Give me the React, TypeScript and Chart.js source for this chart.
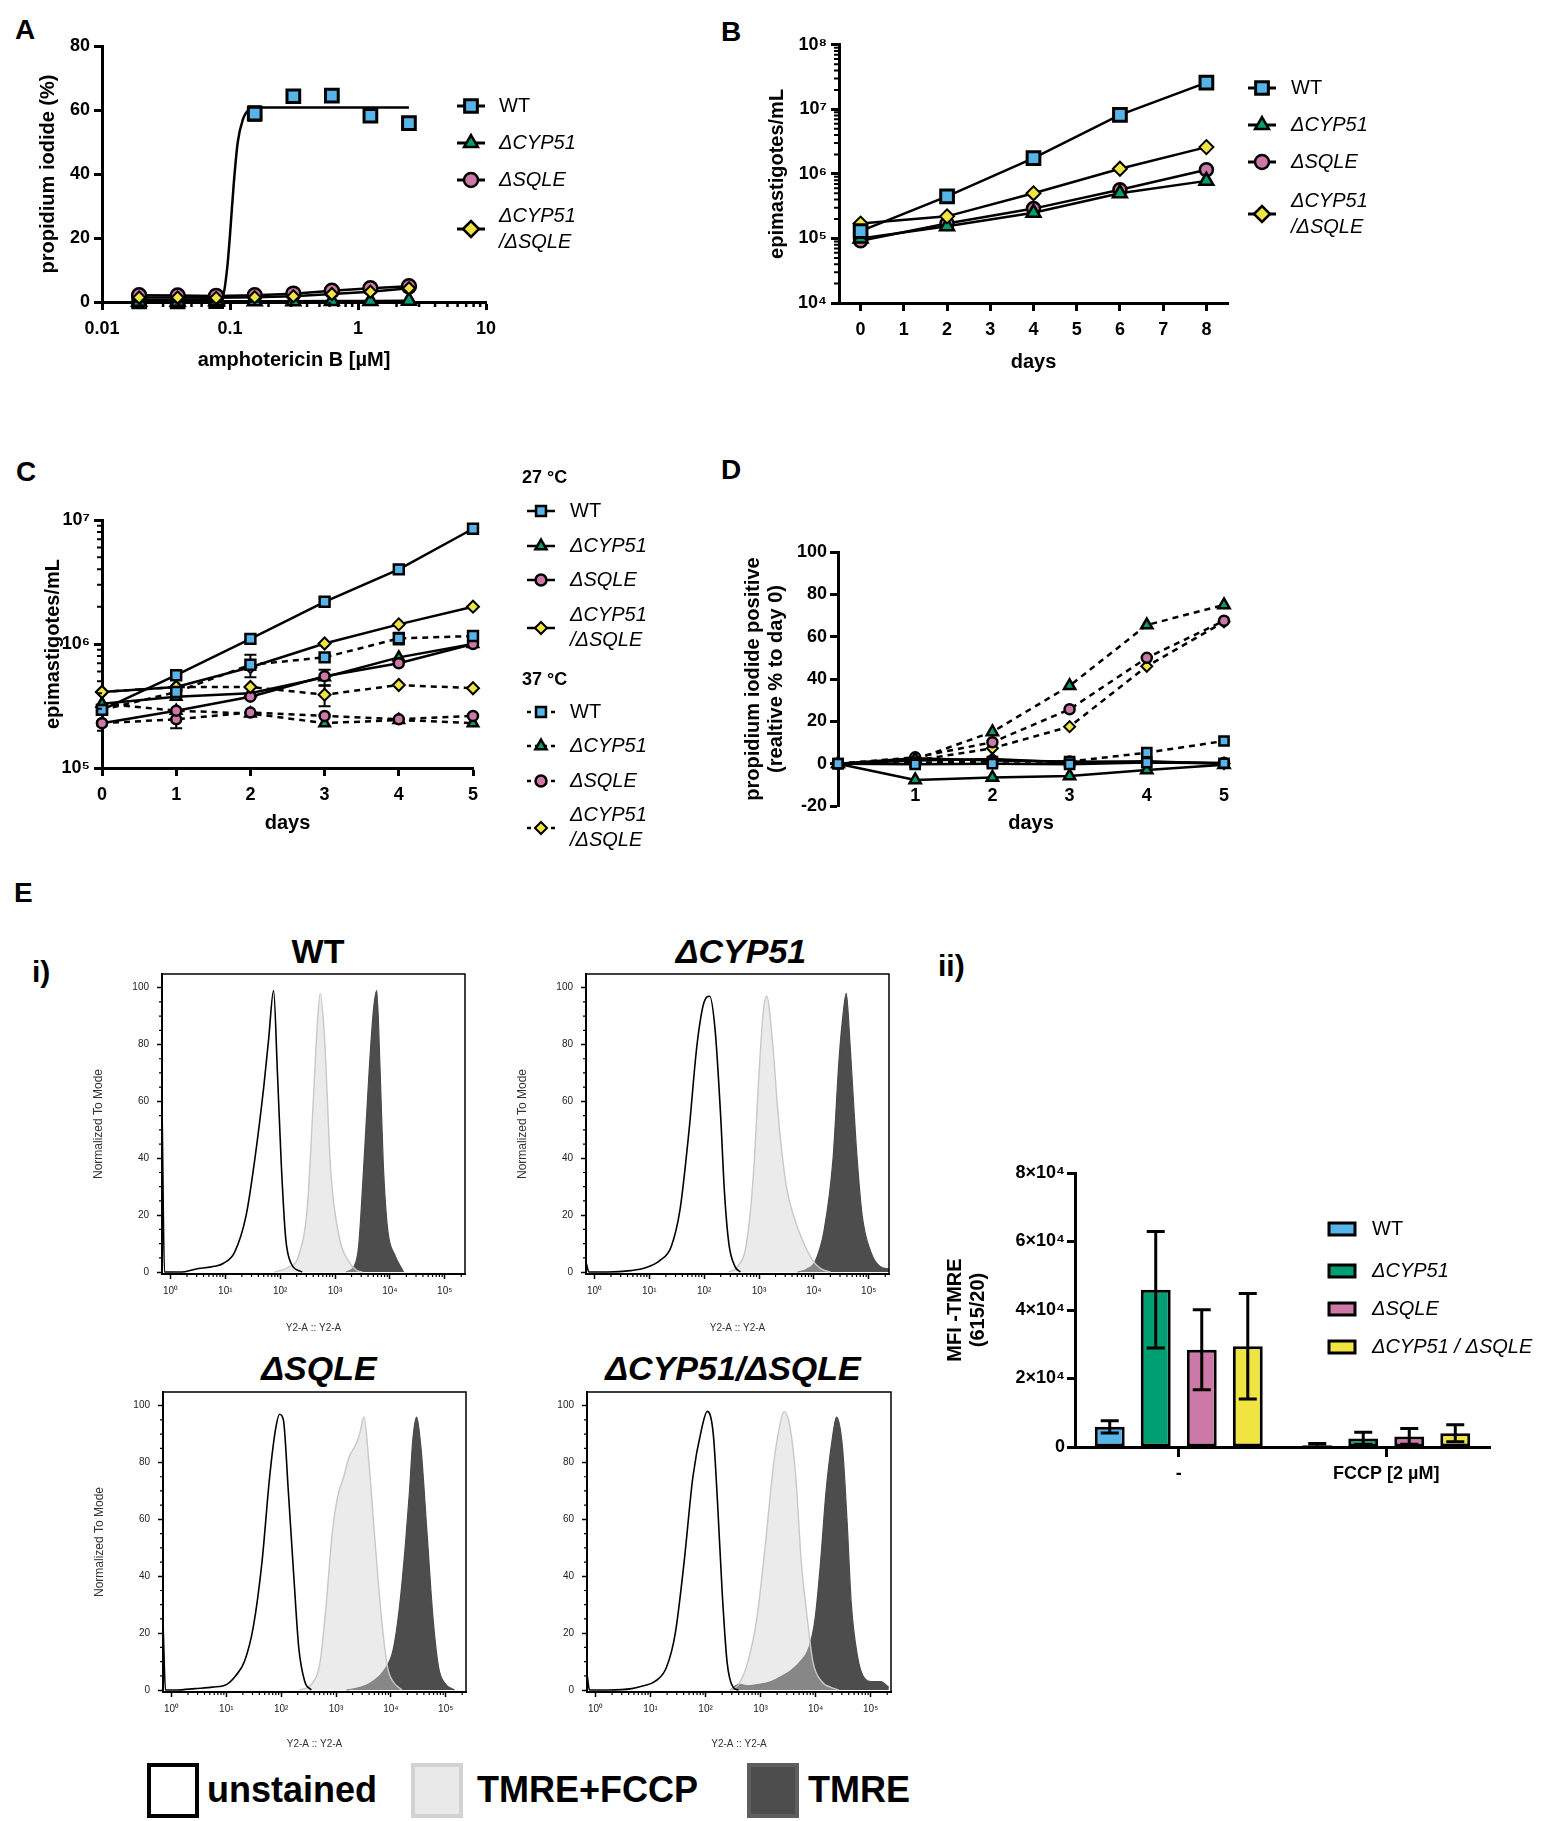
import { useEffect, useRef } from 'react'
import { Chart, registerables } from 'chart.js'
import { drawPoint } from 'chart.js/helpers'

Chart.register(...registerables)

const FONT = "'Liberation Sans', Arial, Helvetica, sans-serif"

const BLUE = '#56B4E9'
const GREEN = '#009E73'
const PINK = '#CC79A7'
const YELLOW = '#F0E442'

// ---- A: propidium iodide vs amphotericin B
const ampB = [0.0195, 0.039, 0.078, 0.156, 0.3125, 0.625, 1.25, 2.5]
const piWT = [0.2, 0.2, 0.3, 58.9, 64.3, 64.5, 58.2, 55.9]
const piWTErr = [0, 0, 0, 2.2, 0, 0, 0, 0]
const piCYP51 = [0.1, 0.1, 0.2, 0.2, 0.2, 0.3, 0.3, 0.4]
const piSQLE = [2.1, 2.0, 1.9, 2.1, 2.6, 3.5, 4.3, 4.9]
const piDouble = [1.4, 1.4, 1.3, 1.5, 1.8, 2.5, 3.2, 4.3]
const fitConc = [0.0195, 0.08, 0.0875, 0.0953, 0.1, 0.107, 0.115, 0.126, 0.14, 0.17, 2.5]
const fitWT = [0.6, 0.8, 1.5, 11, 21, 37, 50, 57, 60, 60.8, 60.8]
const ampTicks = [0.01, 0.1, 1, 10]
const ampTickLabels = ['0.01', '0.1', '1', '10']
const piTicks = [0, 20, 40, 60, 80]

// ---- B: growth at 27 °C
const daysB = [0, 2, 4, 6, 8]
const growWT = [1.3e5, 4.5e5, 1.76e6, 8.2e6, 2.6e7]
const growCYP51 = [1.0e5, 1.55e5, 2.5e5, 5.0e5, 7.8e5]
const growSQLE = [0.92e5, 1.7e5, 2.9e5, 5.7e5, 1.16e6]
const growDouble = [1.7e5, 2.2e5, 5.0e5, 1.2e6, 2.6e6]
const dayTicksB = [0, 1, 2, 3, 4, 5, 6, 7, 8]
const growTicks = [1e4, 1e5, 1e6, 1e7, 1e8]
const growTickLabels = ['10⁴', '10⁵', '10⁶', '10⁷', '10⁸']

// ---- C: growth at 27 °C and 37 °C
const daysC = [0, 1, 2, 3, 4, 5]
const c27WT = [2.94e5, 5.6e5, 1.1e6, 2.19e6, 4.0e6, 8.5e6]
const c27CYP51 = [3.3e5, 3.76e5, 4.0e5, 5.4e5, 7.8e5, 1.0e6]
const c27SQLE = [2.3e5, 2.9e5, 3.76e5, 5.5e5, 7.0e5, 1.0e6]
const c27Double = [4.1e5, 4.5e5, 6.5e5, 1.01e6, 1.44e6, 2.0e6]
const c37WT = [2.94e5, 4.1e5, 6.8e5, 7.8e5, 1.11e6, 1.16e6]
const c37CYP51 = [3.3e5, 2.9e5, 2.75e5, 2.3e5, 2.44e5, 2.3e5]
const c37SQLE = [2.3e5, 2.47e5, 2.8e5, 2.63e5, 2.47e5, 2.63e5]
const c37Double = [4.1e5, 4.5e5, 4.5e5, 3.9e5, 4.67e5, 4.4e5]
const c27CYP51Err = [0, 0, 0, 0.8e5, 0, 0]
const c37WTErr = [0, 0, 1.4e5, 0, 1.2e5, 0]
const c37SQLEErr = [0, 0.38e5, 0, 0, 0, 0]
const c37DoubleErr = [0, 0, 0, 0.75e5, 0, 0]
const dayTicksC = [0, 1, 2, 3, 4, 5]
const growTicksC = [1e5, 1e6, 1e7]
const growTickLabelsC = ['10⁵', '10⁶', '10⁷']

// ---- D: PI positive relative to day 0
const daysD = [0, 1, 2, 3, 4, 5]
const d27WT = [0, -0.3, 0, -0.3, 0.5, 0.2]
const d27CYP51 = [0, -7.7, -6.5, -5.8, -3, -0.5]
const d27SQLE = [0, 2.5, 1.5, 1.0, 0.8, 0.3]
const d27Double = [0, 1.5, 2.2, 0.5, 1.2, 0]
const d37WT = [0, 0.5, 1.0, 1.0, 5.2, 10.7]
const d37CYP51 = [0, 2.0, 15, 36.8, 65.5, 75]
const d37SQLE = [0, 3.0, 10.1, 25.7, 50, 67.5]
const d37Double = [0, 1.5, 7.3, 17.5, 46, 67]
const dayTicksD = [1, 2, 3, 4, 5]
const relTicks = [-20, 0, 20, 40, 60, 80, 100]

// ---- E ii: MFI TMRE
const mfiGroups = ['-', 'FCCP [2 µM]']
const mfiWT = [5900, 500]
const mfiCYP51 = [45900, 2500]
const mfiSQLE = [28400, 3100]
const mfiDouble = [29400, 4000]
const mfiWTSd = [1800, 500]
const mfiCYP51Sd = [17000, 1800]
const mfiSQLESd = [11700, 2300]
const mfiDoubleSd = [15400, 2500]
const mfiTicks = [0, 20000, 40000, 60000, 80000]
const mfiTickLabels = ['0', '2×10⁴', '4×10⁴', '6×10⁴', '8×10⁴']

// ---- E i: histograms, [log10 Y2-A, % of mode]
const wtUnstained = [[-0.15, 52], [-0.11, 0], [0.2, 0], [0.45, 1], [0.8, 2], [0.96, 3], [1.17, 7], [1.38, 20], [1.54, 40], [1.7, 65], [1.79, 82], [1.88, 99], [1.95, 70], [2.02, 38], [2.1, 12], [2.2, 3], [2.4, 0]]
const wtFccp = [[1.9, 0], [2.13, 1.5], [2.34, 6], [2.5, 24], [2.6, 59], [2.68, 88], [2.73, 98], [2.81, 82], [2.92, 36], [3.08, 12], [3.24, 4], [3.4, 0.5], [3.5, 0]]
const wtTmre = [[3.2, 0], [3.35, 2], [3.43, 9], [3.52, 36], [3.62, 70], [3.7, 92], [3.76, 99], [3.82, 72], [3.88, 38], [3.96, 15], [4.09, 6], [4.25, 0]]
const cypUnstained = [[-0.15, 3], [-0.1, 0], [0.24, 0], [0.66, 0.5], [0.93, 1.5], [1.19, 4], [1.4, 9], [1.56, 22], [1.72, 49], [1.87, 80], [2.0, 95], [2.1, 97], [2.2, 85], [2.3, 55], [2.37, 28], [2.45, 10], [2.56, 2], [2.66, 0]]
const cypFccp = [[2.45, 0], [2.61, 2], [2.77, 10], [2.9, 35], [3.0, 70], [3.08, 92], [3.14, 97], [3.25, 80], [3.35, 55], [3.5, 30], [3.66, 18], [3.82, 10], [3.98, 4], [4.14, 1], [4.3, 0]]
const cypTmre = [[3.7, 0], [3.87, 1], [4.03, 4], [4.19, 15], [4.35, 40], [4.46, 75], [4.54, 92], [4.59, 98], [4.66, 80], [4.77, 45], [4.88, 20], [5.04, 7], [5.2, 2], [5.37, 1]]
const sqleUnstained = [[-0.15, 21], [-0.11, 0], [0.1, 0], [0.43, 0.5], [0.75, 1], [1.01, 2], [1.17, 5], [1.33, 10], [1.49, 22], [1.65, 45], [1.79, 75], [1.9, 92], [1.97, 97], [2.04, 95], [2.13, 70], [2.23, 40], [2.32, 15], [2.43, 3], [2.55, 0]]
const sqleFccp = [[2.34, 0], [2.55, 2], [2.71, 10], [2.82, 30], [2.93, 55], [3.03, 68], [3.14, 75], [3.24, 82], [3.35, 86], [3.43, 90], [3.51, 96], [3.6, 80], [3.7, 55], [3.83, 25], [3.94, 8], [4.04, 3], [4.2, 0]]
const sqleTmre = [[3.19, 0], [3.46, 1], [3.67, 3], [3.88, 7], [4.04, 14], [4.15, 28], [4.26, 50], [4.34, 70], [4.4, 88], [4.47, 96], [4.55, 85], [4.66, 55], [4.77, 25], [4.87, 8], [5.0, 2], [5.16, 0]]
const dblUnstained = [[-0.15, 5], [-0.11, 0], [0.24, 0], [0.66, 0.5], [0.87, 1.5], [1.08, 3], [1.29, 8], [1.45, 20], [1.61, 45], [1.77, 75], [1.93, 92], [2.03, 98], [2.14, 90], [2.22, 65], [2.3, 35], [2.39, 10], [2.5, 1], [2.6, 0]]
const dblFccp = [[2.45, 0], [2.6, 2], [2.77, 10], [2.93, 25], [3.08, 50], [3.24, 80], [3.37, 95], [3.43, 98], [3.53, 93], [3.64, 75], [3.74, 45], [3.85, 25], [3.95, 10], [4.11, 3], [4.27, 1], [4.42, 0]]
const dblTmre = [[2.45, 0], [2.61, 2], [2.77, 1.5], [2.98, 2], [3.19, 3], [3.4, 5], [3.56, 7], [3.72, 10], [3.88, 15], [3.99, 25], [4.09, 45], [4.19, 70], [4.3, 88], [4.38, 96], [4.49, 85], [4.57, 60], [4.65, 30], [4.76, 12], [4.86, 5], [5.02, 3], [5.18, 3], [5.33, 1]]
const histXTicks = [1, 10, 100, 1000, 10000, 100000]
const histXLabels = ['10⁰', '10¹', '10²', '10³', '10⁴', '10⁵']
const histYTicks = [0, 20, 40, 60, 80, 100]

// ---------- plugins ----------
const sideLegend = {
  id: 'sideLegend',
  afterDraw(chart: any, _a: any, opts: any) {
    if (!opts || !opts.items) return
    const [ox, oy] = opts.origin
    const ctx = chart.ctx
    ctx.save()
    ctx.textBaseline = 'middle'
    ctx.textAlign = 'left'
    for (const it of opts.items) {
      const y = it.y - oy
      if (it.header) {
        ctx.fillStyle = '#000'
        ctx.font = `bold 18px ${FONT}`
        ctx.fillText(it.header, it.tx - ox, y)
        continue
      }
      const mx = it.x - ox
      ctx.strokeStyle = '#000'
      if (it.swatch) {
        ctx.fillStyle = it.color
        ctx.lineWidth = 3
        ctx.fillRect(mx - 13, y - 6, 26, 12)
        ctx.strokeRect(mx - 13, y - 6, 26, 12)
      } else {
        ctx.lineWidth = opts.lineWidth || 2.5
        ctx.setLineDash(it.dashed ? [4, 4] : [])
        ctx.beginPath()
        ctx.moveTo(mx - 14, y)
        ctx.lineTo(mx + 14, y)
        ctx.stroke()
        ctx.setLineDash([])
        ctx.fillStyle = it.color
        ctx.lineWidth = it.bw || 2.5
        drawPoint(ctx, { pointStyle: it.style, radius: it.r, rotation: 0, borderWidth: it.bw || 2.5 }, mx, y)
      }
      ctx.fillStyle = '#000'
      ctx.font = `${it.italic ? 'italic ' : ''}${opts.size || 20}px ${FONT}`
      const gap = opts.gap || 26
      it.lines.forEach((t: string, i: number) => {
        ctx.fillText(t, it.tx - ox, y + (i - (it.lines.length - 1) / 2) * gap)
      })
    }
    ctx.restore()
  },
}

function drawErrors(chart: any, opts: any) {
  const ctx = chart.ctx
  const ys = chart.scales.y
  ctx.save()
  ctx.strokeStyle = '#000'
  ctx.lineWidth = opts.width
  chart.data.datasets.forEach((ds: any, i: number) => {
    if (!ds.errors) return
    const meta = chart.getDatasetMeta(i)
    meta.data.forEach((el: any, j: number) => {
      const e = ds.errors[j]
      if (!e) return
      const raw = ds.data[j]
      const v = typeof raw === 'number' ? raw : raw.y
      const y1 = ys.getPixelForValue(v + e)
      const y2 = ys.getPixelForValue(Math.max(v - e, ys.min))
      const c = opts.cap
      ctx.beginPath()
      ctx.moveTo(el.x, y1)
      ctx.lineTo(el.x, y2)
      ctx.moveTo(el.x - c, y1)
      ctx.lineTo(el.x + c, y1)
      ctx.moveTo(el.x - c, y2)
      ctx.lineTo(el.x + c, y2)
      ctx.stroke()
    })
  })
  ctx.restore()
}

const errorBars = {
  id: 'errorBars',
  beforeDatasetsDraw(chart: any, _a: any, opts: any) {
    if (opts && opts.width && opts.under) drawErrors(chart, opts)
  },
  afterDatasetsDraw(chart: any, _a: any, opts: any) {
    if (opts && opts.width && !opts.under) drawErrors(chart, opts)
  },
}

const minorTicks = {
  id: 'minorTicks',
  afterDraw(chart: any, _a: any, opts: any) {
    if (!opts) return
    const { ctx, chartArea } = chart
    const len = opts.len || 5
    ctx.save()
    ctx.strokeStyle = '#000'
    ctx.lineWidth = opts.width || 2
    ctx.beginPath()
    ;(opts.x || []).forEach((v: number) => {
      const px = chart.scales.x.getPixelForValue(v)
      if (px < chartArea.left - 0.5 || px > chartArea.right + 0.5) return
      ctx.moveTo(px, chartArea.bottom)
      ctx.lineTo(px, chartArea.bottom + len)
    })
    ;(opts.y || []).forEach((v: number) => {
      const py = chart.scales.y.getPixelForValue(v)
      if (py < chartArea.top - 0.5 || py > chartArea.bottom + 0.5) return
      ctx.moveTo(chartArea.left - len, py)
      ctx.lineTo(chartArea.left, py)
    })
    ctx.stroke()
    ctx.restore()
  },
}

const frame = {
  id: 'frame',
  afterDraw(chart: any, _a: any, opts: any) {
    if (!opts || !opts.width) return
    const { ctx, chartArea } = chart
    ctx.save()
    ctx.strokeStyle = '#000'
    ctx.lineWidth = opts.width
    ctx.strokeRect(chartArea.left, chartArea.top, chartArea.right - chartArea.left, chartArea.bottom - chartArea.top)
    ctx.restore()
  },
}

// ---------- helpers ----------
const pts = (xs: number[], ys: number[]) => xs.map((x, i) => ({ x, y: ys[i] }))
const setTicks = (vals: number[]) => (s: any) => {
  s.ticks = vals.map((value) => ({ value }))
}
const logMinors = (fromExp: number, toExp: number) => {
  const out: number[] = []
  for (let e = fromExp; e < toExp; e++) for (let k = 2; k <= 9; k++) out.push(k * 10 ** e)
  return out
}
const tickFont = { family: FONT, size: 18, weight: 'bold' }
const titleFont = { family: FONT, size: 20, weight: 'bold', lineHeight: 1.15 }

function axis(extra: any, tickLen = 8) {
  return {
    grid: { drawOnChartArea: false, drawTicks: true, tickLength: tickLen, tickWidth: 3, tickColor: '#000' },
    border: { display: true, width: 3, color: '#000' },
    ...extra,
    ticks: { color: '#000', font: tickFont, autoSkip: false, maxRotation: 0, ...(extra.ticks || {}) },
  }
}

function series(label: string, xs: number[], ys: number[], color: string, style: string, r: number, extra: any = {}) {
  return {
    label,
    data: pts(xs, ys),
    borderColor: '#000',
    borderWidth: 2.5,
    pointStyle: style,
    pointRadius: r,
    pointBorderWidth: 2.5,
    pointBorderColor: '#000',
    pointBackgroundColor: color,
    fill: false,
    tension: 0,
    clip: false,
    ...extra,
  }
}

const baseOptions = (padding: any) => ({
  animation: false,
  responsive: false,
  layout: { padding },
  events: [],
})

// ---------- chart factories ----------
const boxA = { x: 0, y: 30, w: 700, h: 350 }
function makeA() {
  return {
    type: 'line',
    data: {
      datasets: [
        series('ΔCYP51/ΔSQLE', ampB, piDouble, YELLOW, 'rectRot', 6, { order: 0, pointBorderWidth: 2 }),
        series('ΔSQLE', ampB, piSQLE, PINK, 'circle', 7, { order: 1 }),
        series('ΔCYP51', ampB, piCYP51, GREEN, 'triangle', 8, { order: 2 }),
        series('WT', ampB, piWT, BLUE, 'rect', 9, { order: 3, showLine: false, errors: piWTErr, pointBorderWidth: 3 }),
        { label: 'WT fit', data: pts(fitConc, fitWT), borderColor: '#000', borderWidth: 2.5, pointRadius: 0, cubicInterpolationMode: 'monotone', order: 4, fill: false },
      ],
    },
    options: {
      ...baseOptions({ left: 0, top: 16, right: 214, bottom: 0 }),
      plugins: {
        legend: { display: false },
        tooltip: { enabled: false },
        errorBars: { width: 2.5, cap: 7, under: true },
        minorTicks: { x: logMinors(-2, 1), len: 5, width: 2.5 },
        sideLegend: {
          origin: [boxA.x, boxA.y],
          lineWidth: 3,
          items: [
            { x: 471, tx: 499, y: 106, lines: ['WT'], color: BLUE, style: 'rect', r: 9, bw: 3 },
            { x: 471, tx: 499, y: 143, lines: ['ΔCYP51'], italic: true, color: GREEN, style: 'triangle', r: 8 },
            { x: 471, tx: 499, y: 180, lines: ['ΔSQLE'], italic: true, color: PINK, style: 'circle', r: 7 },
            { x: 471, tx: 499, y: 229, lines: ['ΔCYP51', '/ΔSQLE'], italic: true, color: YELLOW, style: 'rectRot', r: 8 },
          ],
        },
      },
      scales: {
        x: axis({
          type: 'logarithmic', min: 0.01, max: 10,
          afterBuildTicks: setTicks(ampTicks),
          afterFit: (s: any) => { s.height = 78 },
          ticks: { padding: 8, callback: (_v: any, i: number) => ampTickLabels[i] },
          title: { display: true, text: 'amphotericin B [µM]', font: titleFont, color: '#000', padding: { top: 0, bottom: 8 } },
        }),
        y: axis({
          type: 'linear', min: 0, max: 80,
          afterBuildTicks: setTicks(piTicks),
          afterFit: (s: any) => { s.width = 102 },
          ticks: { padding: 4 },
          title: { display: true, text: 'propidium iodide (%)', font: titleFont, color: '#000', padding: { top: 37, bottom: 0 } },
        }),
      },
    },
    plugins: [sideLegend, errorBars, minorTicks],
  }
}

const boxB = { x: 760, y: 30, w: 800, h: 350 }
function makeB() {
  return {
    type: 'line',
    data: {
      datasets: [
        series('WT', daysB, growWT, BLUE, 'rect', 9, { order: 0, pointBorderWidth: 3 }),
        series('ΔCYP51/ΔSQLE', daysB, growDouble, YELLOW, 'rectRot', 7, { order: 1, pointBorderWidth: 2 }),
        series('ΔCYP51', daysB, growCYP51, GREEN, 'triangle', 8, { order: 2 }),
        series('ΔSQLE', daysB, growSQLE, PINK, 'circle', 6.5, { order: 3 }),
      ],
    },
    options: {
      ...baseOptions({ left: 0, top: 14, right: 332, bottom: 0 }),
      plugins: {
        legend: { display: false },
        tooltip: { enabled: false },
        minorTicks: { y: logMinors(4, 8), len: 5, width: 2 },
        sideLegend: {
          origin: [boxB.x, boxB.y],
          lineWidth: 3,
          items: [
            { x: 1262, tx: 1291, y: 88, lines: ['WT'], color: BLUE, style: 'rect', r: 9, bw: 3 },
            { x: 1262, tx: 1291, y: 125, lines: ['ΔCYP51'], italic: true, color: GREEN, style: 'triangle', r: 8 },
            { x: 1262, tx: 1291, y: 162, lines: ['ΔSQLE'], italic: true, color: PINK, style: 'circle', r: 7 },
            { x: 1262, tx: 1291, y: 214, lines: ['ΔCYP51', '/ΔSQLE'], italic: true, color: YELLOW, style: 'rectRot', r: 8 },
          ],
        },
      },
      scales: {
        x: axis({
          type: 'linear', min: -0.5, max: 8.5,
          afterBuildTicks: setTicks(dayTicksB),
          afterFit: (s: any) => { s.height = 77 },
          ticks: { padding: 8 },
          title: { display: true, text: 'days', font: titleFont, color: '#000', padding: { top: 0, bottom: 6 } },
        }),
        y: axis({
          type: 'logarithmic', min: 1e4, max: 1e8,
          afterBuildTicks: setTicks(growTicks),
          afterFit: (s: any) => { s.width = 79 },
          ticks: { padding: 4, callback: (_v: any, i: number) => growTickLabels[i] },
          title: { display: true, text: 'epimastigotes/mL', font: titleFont, color: '#000', padding: { top: 6, bottom: 0 } },
        }),
      },
    },
    plugins: [sideLegend, minorTicks],
  }
}

const boxC = { x: 0, y: 450, w: 700, h: 420 }
function makeC() {
  const dash = { borderDash: [6, 5] }
  return {
    type: 'line',
    data: {
      datasets: [
        series('WT 27', daysC, c27WT, BLUE, 'rect', 7, { order: 0 }),
        series('WT 37', daysC, c37WT, BLUE, 'rect', 7, { order: 1, errors: c37WTErr, ...dash }),
        series('dbl 27', daysC, c27Double, YELLOW, 'rectRot', 6, { order: 2, pointBorderWidth: 2 }),
        series('dbl 37', daysC, c37Double, YELLOW, 'rectRot', 6, { order: 3, pointBorderWidth: 2, errors: c37DoubleErr, ...dash }),
        series('SQLE 27', daysC, c27SQLE, PINK, 'circle', 5, { order: 4 }),
        series('SQLE 37', daysC, c37SQLE, PINK, 'circle', 5, { order: 5, errors: c37SQLEErr, ...dash }),
        series('CYP51 27', daysC, c27CYP51, GREEN, 'triangle', 6, { order: 6, errors: c27CYP51Err }),
        series('CYP51 37', daysC, c37CYP51, GREEN, 'triangle', 6, { order: 7, ...dash }),
      ],
    },
    options: {
      ...baseOptions({ left: 0, top: 70, right: 227, bottom: 0 }),
      plugins: {
        legend: { display: false },
        tooltip: { enabled: false },
        errorBars: { width: 2, cap: 6, under: true },
        minorTicks: { y: logMinors(5, 7), len: 5, width: 2 },
        sideLegend: {
          origin: [boxC.x, boxC.y],
          gap: 25,
          items: [
            { header: '27 °C', tx: 522, y: 478 },
            { x: 541, tx: 570, y: 511, lines: ['WT'], color: BLUE, style: 'rect', r: 7 },
            { x: 541, tx: 570, y: 546, lines: ['ΔCYP51'], italic: true, color: GREEN, style: 'triangle', r: 6.5 },
            { x: 541, tx: 570, y: 580, lines: ['ΔSQLE'], italic: true, color: PINK, style: 'circle', r: 5.5 },
            { x: 541, tx: 570, y: 628, lines: ['ΔCYP51', '/ΔSQLE'], italic: true, color: YELLOW, style: 'rectRot', r: 6, bw: 2 },
            { header: '37 °C', tx: 522, y: 680 },
            { x: 541, tx: 570, y: 712, lines: ['WT'], color: BLUE, style: 'rect', r: 7, dashed: true },
            { x: 541, tx: 570, y: 746, lines: ['ΔCYP51'], italic: true, color: GREEN, style: 'triangle', r: 6.5, dashed: true },
            { x: 541, tx: 570, y: 781, lines: ['ΔSQLE'], italic: true, color: PINK, style: 'circle', r: 5.5, dashed: true },
            { x: 541, tx: 570, y: 828, lines: ['ΔCYP51', '/ΔSQLE'], italic: true, color: YELLOW, style: 'rectRot', r: 6, bw: 2, dashed: true },
          ],
        },
      },
      scales: {
        x: axis({
          type: 'linear', min: 0, max: 5,
          afterBuildTicks: setTicks(dayTicksC),
          afterFit: (s: any) => { s.height = 102 },
          ticks: { padding: 8 },
          title: { display: true, text: 'days', font: titleFont, color: '#000', padding: { top: 0, bottom: 35 } },
        }),
        y: axis({
          type: 'logarithmic', min: 1e5, max: 1e7,
          afterBuildTicks: setTicks(growTicksC),
          afterFit: (s: any) => { s.width = 102 },
          ticks: { padding: 4, callback: (_v: any, i: number) => growTickLabelsC[i] },
          title: { display: true, text: 'epimastigotes/mL', font: titleFont, color: '#000', padding: { top: 42, bottom: 0 } },
        }),
      },
    },
    plugins: [sideLegend, errorBars, minorTicks],
  }
}

const boxD = { x: 720, y: 450, w: 520, h: 400 }
function makeD() {
  const dash = { borderDash: [6, 5] }
  return {
    type: 'line',
    data: {
      datasets: [
        series('WT 27', daysD, d27WT, BLUE, 'rect', 6.5, { order: 0 }),
        series('WT 37', daysD, d37WT, BLUE, 'rect', 6.5, { order: 1, ...dash }),
        series('CYP51 37', daysD, d37CYP51, GREEN, 'triangle', 6.5, { order: 2, ...dash }),
        series('SQLE 37', daysD, d37SQLE, PINK, 'circle', 5, { order: 3, ...dash }),
        series('dbl 37', daysD, d37Double, YELLOW, 'rectRot', 5.5, { order: 4, pointBorderWidth: 2, ...dash }),
        series('CYP51 27', daysD, d27CYP51, GREEN, 'triangle', 6.5, { order: 5 }),
        series('SQLE 27', daysD, d27SQLE, PINK, 'circle', 5, { order: 6 }),
        series('dbl 27', daysD, d27Double, YELLOW, 'rectRot', 5.5, { order: 7, pointBorderWidth: 2 }),
      ],
    },
    options: {
      ...baseOptions({ left: 0, top: 102, right: 16, bottom: 0 }),
      plugins: { legend: { display: false }, tooltip: { enabled: false } },
      scales: {
        x: {
          type: 'linear', min: 0, max: 5,
          grid: { display: false, drawTicks: false },
          border: { display: false },
          afterBuildTicks: setTicks(dayTicksD),
          afterFit: (s: any) => { s.height = 44 },
          // mirrored labels sit just above the bottom of the plot, as in the original
          ticks: { color: '#000', font: tickFont, mirror: true, padding: -1, autoSkip: false, maxRotation: 0 },
          title: { display: true, text: 'days', font: titleFont, color: '#000', padding: { top: 0, bottom: 15 } },
        },
        y: axis({
          type: 'linear', min: -20, max: 100,
          afterBuildTicks: setTicks(relTicks),
          afterFit: (s: any) => { s.width = 118 },
          ticks: { padding: 3 },
          title: { display: true, text: ['propidium iodide positive', '(realtive % to day 0)'], font: titleFont, color: '#000', padding: { top: 22, bottom: 0 } },
        }),
      },
    },
  }
}

const boxE2 = { x: 920, y: 1100, w: 642, h: 400 }
function makeE2() {
  const bar = (label: string, data: number[], color: string, errors: number[]) => ({
    label, data, errors, backgroundColor: color, borderColor: '#000', borderWidth: 3, borderSkipped: false,
    categoryPercentage: 0.887, barPercentage: 0.65,
  })
  return {
    type: 'bar',
    data: {
      labels: mfiGroups,
      datasets: [
        bar('WT', mfiWT, BLUE, mfiWTSd),
        bar('ΔCYP51', mfiCYP51, GREEN, mfiCYP51Sd),
        bar('ΔSQLE', mfiSQLE, PINK, mfiSQLESd),
        bar('ΔCYP51 / ΔSQLE', mfiDouble, YELLOW, mfiDoubleSd),
      ],
    },
    options: {
      ...baseOptions({ left: 0, top: 73, right: 72, bottom: 0 }),
      plugins: {
        legend: { display: false },
        tooltip: { enabled: false },
        errorBars: { width: 3, cap: 9 },
        sideLegend: {
          origin: [boxE2.x, boxE2.y],
          items: [
            { swatch: true, x: 1342, tx: 1372, y: 1229, lines: ['WT'], color: BLUE },
            { swatch: true, x: 1342, tx: 1372, y: 1271, lines: ['ΔCYP51'], italic: true, color: GREEN },
            { swatch: true, x: 1342, tx: 1372, y: 1309, lines: ['ΔSQLE'], italic: true, color: PINK },
            { swatch: true, x: 1342, tx: 1372, y: 1347, lines: ['ΔCYP51 / ΔSQLE'], italic: true, color: YELLOW },
          ],
        },
      },
      scales: {
        x: axis({
          type: 'category',
          grid: { offset: false, drawOnChartArea: false, drawTicks: true, tickLength: 10, tickWidth: 3, tickColor: '#000' },
          afterFit: (s: any) => { s.height = 53 },
          ticks: { padding: 6 },
        }),
        y: axis({
          type: 'linear', min: 0, max: 80000,
          afterBuildTicks: setTicks(mfiTicks),
          afterFit: (s: any) => { s.width = 155 },
          ticks: { padding: 2, callback: (_v: any, i: number) => mfiTickLabels[i] },
          title: { display: true, text: ['MFI -TMRE', '(615/20)'], font: titleFont, color: '#000', padding: { top: 24, bottom: 0 } },
        }),
      },
    },
    plugins: [sideLegend, errorBars],
  }
}

function histogram(unst: number[][], fccp: number[][], tmre: number[][], yw: number, xh: number, right: number, showY: boolean) {
  const toPts = (arr: number[][]) => arr.map(([lx, y]) => ({ x: 10 ** lx, y }))
  const small = { family: FONT, size: 10 }
  return () => ({
    type: 'line',
    data: {
      datasets: [
        { label: 'unstained', data: toPts(unst), borderColor: '#000', borderWidth: 1.6, fill: false, pointRadius: 0, cubicInterpolationMode: 'monotone', order: 0 },
        { label: 'TMRE+FCCP', data: toPts(fccp), borderColor: '#c8c8c8', borderWidth: 1.4, backgroundColor: 'rgba(210,210,210,0.44)', fill: 'origin', pointRadius: 0, cubicInterpolationMode: 'monotone', order: 1 },
        { label: 'TMRE', data: toPts(tmre), borderColor: '#4a4a4a', borderWidth: 1.2, backgroundColor: '#4d4d4d', fill: 'origin', pointRadius: 0, cubicInterpolationMode: 'monotone', order: 2 },
      ],
    },
    options: {
      ...baseOptions({ left: 0, top: 12, right, bottom: 0 }),
      plugins: {
        legend: { display: false },
        tooltip: { enabled: false },
        minorTicks: { x: logMinors(0, 6), y: [5, 10, 15, 25, 30, 35, 45, 50, 55, 65, 70, 75, 85, 90, 95], len: 3, width: 1.2 },
        frame: { width: 1.5 },
      },
      scales: {
        x: {
          type: 'logarithmic', min: 10 ** -0.15, max: 10 ** 5.37,
          grid: { drawOnChartArea: false, drawTicks: true, tickLength: 5, tickWidth: 1.5, tickColor: '#000' },
          border: { display: true, width: 2, color: '#000' },
          afterBuildTicks: setTicks(histXTicks),
          afterFit: (s: any) => { s.height = xh },
          ticks: { color: '#222', font: small, padding: 6, autoSkip: false, maxRotation: 0, callback: (_v: any, i: number) => histXLabels[i] },
          title: { display: true, text: 'Y2-A :: Y2-A', color: '#333', font: { family: FONT, size: 10, lineHeight: 1.2 }, padding: { top: 0, bottom: 11 } },
        },
        y: {
          type: 'linear', min: -0.7, max: 104.8,
          grid: { drawOnChartArea: false, drawTicks: true, tickLength: 5, tickWidth: 1.5, tickColor: '#000' },
          border: { display: true, width: 2, color: '#000' },
          afterBuildTicks: setTicks(histYTicks),
          afterFit: (s: any) => { s.width = yw },
          ticks: { color: '#222', font: small, padding: 8, autoSkip: false },
          title: { display: showY, text: 'Normalized To Mode', color: '#333', font: { family: FONT, size: 12, lineHeight: 1.2 }, padding: { top: 1, bottom: 0 } },
        },
      },
    },
    plugins: [minorTicks, frame],
  })
}

// canvas boxes: 12px above the top of each framed plot
const boxH1 = { x: 90, y: 960, w: 458, h: 385 }
const boxH2 = { x: 514, y: 960, w: 462, h: 385 }
const boxH3 = { x: 91, y: 1378, w: 456, h: 383 }
const boxH4 = { x: 515, y: 1378, w: 442, h: 383 }
const makeH1 = histogram(wtUnstained, wtFccp, wtTmre, 72, 71, 83, true)
const makeH2 = histogram(cypUnstained, cypFccp, cypTmre, 72, 71, 87, true)
const makeH3 = histogram(sqleUnstained, sqleFccp, sqleTmre, 72, 69, 81, true)
const makeH4 = histogram(dblUnstained, dblFccp, dblTmre, 72, 69, 66, false)

// ---------- components ----------
function ChartCanvas({ box, make }: any) {
  const ref = useRef<HTMLCanvasElement | null>(null)
  useEffect(() => {
    const chart = new Chart(ref.current as HTMLCanvasElement, make())
    return () => chart.destroy()
  }, [make])
  return (
    <canvas
      ref={ref}
      width={box.w}
      height={box.h}
      style={{ position: 'absolute', left: box.x, top: box.y, width: box.w, height: box.h }}
    />
  )
}

function Label({ x, y, size = 28, children }: any) {
  return (
    <div style={{ position: 'absolute', left: x, top: y, fontSize: size, fontWeight: 'bold', lineHeight: 1, color: '#000' }}>
      {children}
    </div>
  )
}

function HistTitle({ cx, cy, italic, children }: any) {
  return (
    <div style={{ position: 'absolute', left: cx - 200, top: cy - 20, width: 400, textAlign: 'center', fontSize: 34, lineHeight: '40px', fontWeight: 'bold', fontStyle: italic ? 'italic' : 'normal', color: '#000' }}>
      {children}
    </div>
  )
}

function LegendSwatch({ x, bg, border, text, tx }: any) {
  return (
    <>
      <div style={{ position: 'absolute', left: x, top: 1763, width: 44, height: 47, background: bg, border: `4px solid ${border}` }} />
      <div style={{ position: 'absolute', left: tx, top: 1772, fontSize: 36, fontWeight: 'bold', lineHeight: 1, color: '#000' }}>{text}</div>
    </>
  )
}

export default function App() {
  return (
    <div style={{ position: 'absolute', left: 0, top: 0, width: 1562, height: 1821, background: '#fff', overflow: 'hidden', fontFamily: FONT }}>
      <Label x={15} y={16}>A</Label>
      <Label x={721} y={18}>B</Label>
      <Label x={16} y={458}>C</Label>
      <Label x={721} y={456}>D</Label>
      <Label x={14} y={879}>E</Label>
      <Label x={32} y={957} size={30}>i)</Label>
      <Label x={938} y={951} size={30}>ii)</Label>

      <HistTitle cx={318} cy={951}>WT</HistTitle>
      <HistTitle cx={741} cy={951} italic>ΔCYP51</HistTitle>
      <HistTitle cx={319} cy={1368} italic>ΔSQLE</HistTitle>
      <HistTitle cx={733} cy={1368} italic>ΔCYP51/ΔSQLE</HistTitle>

      <ChartCanvas box={boxA} make={makeA} />
      <ChartCanvas box={boxB} make={makeB} />
      <ChartCanvas box={boxC} make={makeC} />
      <ChartCanvas box={boxD} make={makeD} />
      <ChartCanvas box={boxE2} make={makeE2} />
      <ChartCanvas box={boxH1} make={makeH1} />
      <ChartCanvas box={boxH2} make={makeH2} />
      <ChartCanvas box={boxH3} make={makeH3} />
      <ChartCanvas box={boxH4} make={makeH4} />

      <LegendSwatch x={147} bg="#fff" border="#000" text="unstained" tx={207} />
      <LegendSwatch x={411} bg="#e9e9e9" border="#d2d2d2" text="TMRE+FCCP" tx={477} />
      <LegendSwatch x={747} bg="#4d4d4d" border="#5e5e5e" text="TMRE" tx={808} />
    </div>
  )
}
